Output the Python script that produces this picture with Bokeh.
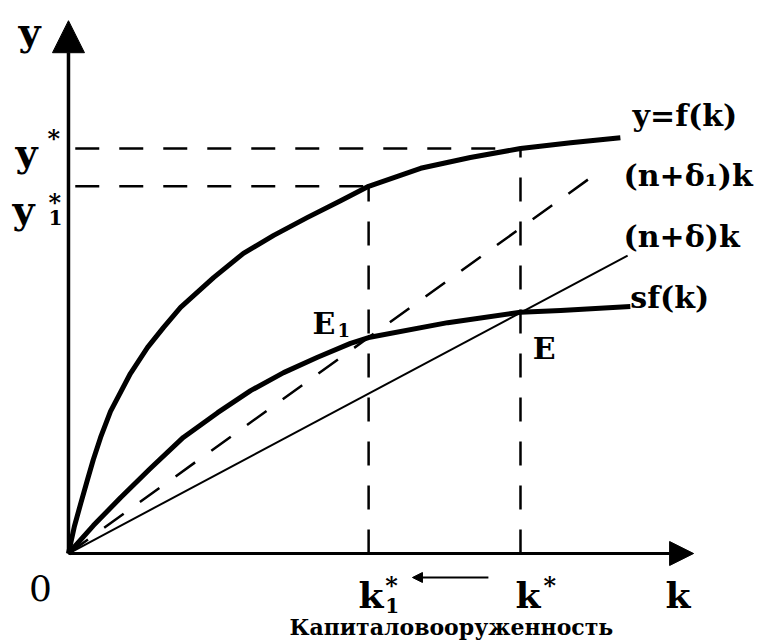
from bokeh.plotting import figure
from bokeh.models import Range1d, Arrow, NormalHead
from bokeh.core.properties import value
from bokeh.embed import file_html
from bokeh.resources import INLINE

# ---- data ----
# production function y = f(k)
k_f = [0, 0.13, 0.27, 0.42, 0.55, 0.71, 0.93, 1.37, 1.75, 2.10, 2.48, 3.21, 3.87, 4.54, 5.29, 6.02, 6.64, 7.79, 8.89, 10.0, 11.11, 12.21]
y_f = [0, 0.60, 1.11, 1.64, 2.09, 2.58, 3.16, 4.00, 4.58, 5.02, 5.47, 6.13, 6.67, 7.07, 7.47, 7.84, 8.16, 8.56, 8.80, 9.00, 9.13, 9.24]
# savings curve sf(k)
k_sf = [0, 0.55, 1.15, 1.81, 2.54, 3.30, 4.03, 4.76, 5.51, 6.24, 6.64, 8.39, 10.0, 10.89, 12.43]
y_sf = [0, 0.62, 1.24, 1.89, 2.58, 3.13, 3.62, 4.02, 4.36, 4.67, 4.80, 5.13, 5.36, 5.40, 5.49]
# break-even lines
k_nd = [0, 12.37]
y_nd = [0, 6.62]      # (n+delta)k
k_nd1 = [0, 11.77]
y_nd1 = [0, 8.51]     # (n+delta1)k
# steady states
k_star, y_star = 10.0, 9.0
k1_star, y1_star = 6.64, 8.16

curve_labels = ["y=f(k)", "(n+δ\u2081)k", "(n+δ)k", "sf(k)"]
axis_title = "Капиталовооруженность"

FONT = value("DejaVu Serif")

p = figure(width=769, height=640, x_range=Range1d(-1.504, 15.509),
           y_range=Range1d(-1.933, 12.289), output_backend="svg",
           toolbar_location=None, min_border=0)
p.axis.visible = False
p.grid.visible = False
p.outline_line_color = None
p.background_fill_color = "white"

# axes as arrows
p.add_layout(Arrow(end=NormalHead(size=32, fill_color="black", line_color="black"),
                   x_start=0, y_start=0, x_end=0, y_end=11.84, line_width=3.5, line_color="black"))
p.add_layout(Arrow(end=NormalHead(size=24, fill_color="black", line_color="black"),
                   x_start=0, y_start=0, x_end=13.83, y_end=0, line_width=3, line_color="black"))

dash = "24 20"
# guide lines
p.line([0.15, k_star], [y_star, y_star], line_width=2.5, line_color="black", line_dash=dash)
p.line([0.15, k1_star], [y1_star, y1_star], line_width=2.5, line_color="black", line_dash=dash)
p.line([k_star, k_star], [0, y_star], line_width=2.5, line_color="black", line_dash=dash)
p.line([k1_star, k1_star], [0, y1_star], line_width=2.5, line_color="black", line_dash=dash)

# curves
p.line(k_nd1, y_nd1, line_width=2.5, line_color="black", line_dash=dash)
p.line(k_nd, y_nd, line_width=2, line_color="black")
p.line(k_f, y_f, line_width=5, line_color="black", line_join="round")
p.line(k_sf, y_sf, line_width=5, line_color="black", line_join="round")

def txt(x, y, t, size, bold=True, align="left", baseline="alphabetic"):
    p.text(x=[x], y=[y], text=[t], text_font=FONT, text_font_size=f"{size}px",
           text_font_style="bold" if bold else "normal", text_align=align,
           text_baseline=baseline, text_color="black")

# curve labels
txt(12.48, 9.73, curve_labels[0], 30)
txt(12.28, 8.40, curve_labels[1], 30)
txt(12.28, 7.04, curve_labels[2], 30)
txt(12.43, 5.69, curve_labels[3], 30)

# equilibrium labels
txt(5.40, 5.11, "E", 30)
txt(5.95, 4.96, "1", 18)
txt(10.27, 4.56, "E", 30)

# y-axis labels
txt(-1.106, 11.6, "y", 38)
txt(-1.17, 8.91, "y", 38)
txt(-0.465, 9.22, "*", 24)
txt(-1.239, 7.64, "y", 38)
txt(-0.442, 7.47, "1", 20)
txt(-0.442, 7.80, "*", 24)

# x-axis labels
txt(-0.62, -0.756, "0", 36, bold=False, align="center", baseline="middle")
txt(6.416, -0.933, "k", 36)
txt(7.01, -1.156, "1", 20)
txt(7.01, -0.711, "*", 24)
txt(9.89, -0.933, "k", 36)
txt(10.51, -0.711, "*", 24)
txt(13.21, -0.933, "k", 36)
p.add_layout(Arrow(end=NormalHead(size=10, fill_color="black", line_color="black"),
                   x_start=9.29, y_start=-0.533, x_end=7.61, y_end=-0.533,
                   line_width=2, line_color="black"))
txt(8.47, -1.644, axis_title, 22, align="center")

open("out.html", "w").write(file_html(p, INLINE))
